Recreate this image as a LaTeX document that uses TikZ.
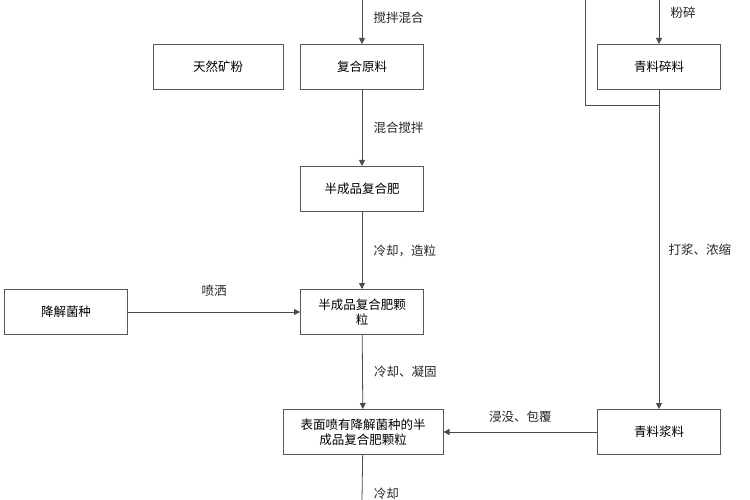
\documentclass[tikz,border=0pt]{standalone}
\usepackage{fontspec}
\setmainfont{Noto Sans CJK SC}
\usetikzlibrary{arrows.meta}
\begin{document}
\begin{tikzpicture}[x=1pt,y=-1pt,font=\fontsize{12.5}{15}\selectfont,
  box/.style={draw=black!65,line width=1pt,minimum width=123pt,minimum height=45pt,align=center,inner sep=2pt},
  flow/.style={draw=black!70,line width=0.8pt,-{Triangle[length=6pt,width=6pt]}},
  lbl/.style={text=black!85}]
  \clip (0,0) rectangle (750,500);
  \useasboundingbox (0,0) rectangle (750,500);
  \fill[white] (0,0) rectangle (750,500);

  % boxes
  \node[box,minimum width=130pt] (fen) at (218,67) {天然矿粉};
  \node[box] (yuan) at (362,67) {复合原料};
  \node[box] (sui) at (659,67) {青料碎料};
  \node[box] (ban) at (362,189) {半成品复合肥};
  \node[box] (jun) at (66,312) {降解菌种};
  \node[box,text width=119pt] (keli) at (362,312) {半成品复合肥颗\\粒};
  \node[box,minimum width=160pt] (biao) at (363,432) {表面喷有降解菌种的半\\成品复合肥颗粒};
  \node[box] (jiang) at (659,432) {青料浆料};

  \coordinate (top1) at (362,0);
  \coordinate (top2) at (659,0);
  \coordinate (top3) at (585,0);
  \coordinate (join) at (659,105);
  \coordinate (bot) at (362,500);

  % connectors
  \draw[flow] (top1) -- (yuan) node[lbl,pos=0.4,right=8pt] {搅拌混合};
  \draw[flow] (top2) -- (sui) node[lbl,pos=0.3,right=8pt] {粉碎};
  \draw[draw=black!70,line width=0.8pt] (top3) |- (join);
  \draw[flow] (yuan) -- (ban) node[lbl,midway,right=8pt] {混合搅拌};
  \draw[flow] (ban) -- (keli) node[lbl,midway,right=8pt] {冷却，造粒};
  \draw[flow] (jun) -- (keli) node[lbl,midway,above=12pt] {喷洒};
  \draw[flow] (keli) -- (biao) node[lbl,midway,right=8pt] {冷却、凝固};
  \draw[flow] (sui) -- (jiang) node[lbl,midway,right=6pt] {打浆、浓缩};
  \draw[flow] (jiang) -- (biao) node[lbl,midway,above=6pt] {浸没、包覆};
  \draw[draw=black!70,line width=0.8pt] (biao) -- (bot) node[lbl,pos=0.85,right=8pt] {冷却};
\end{tikzpicture}
\end{document}
